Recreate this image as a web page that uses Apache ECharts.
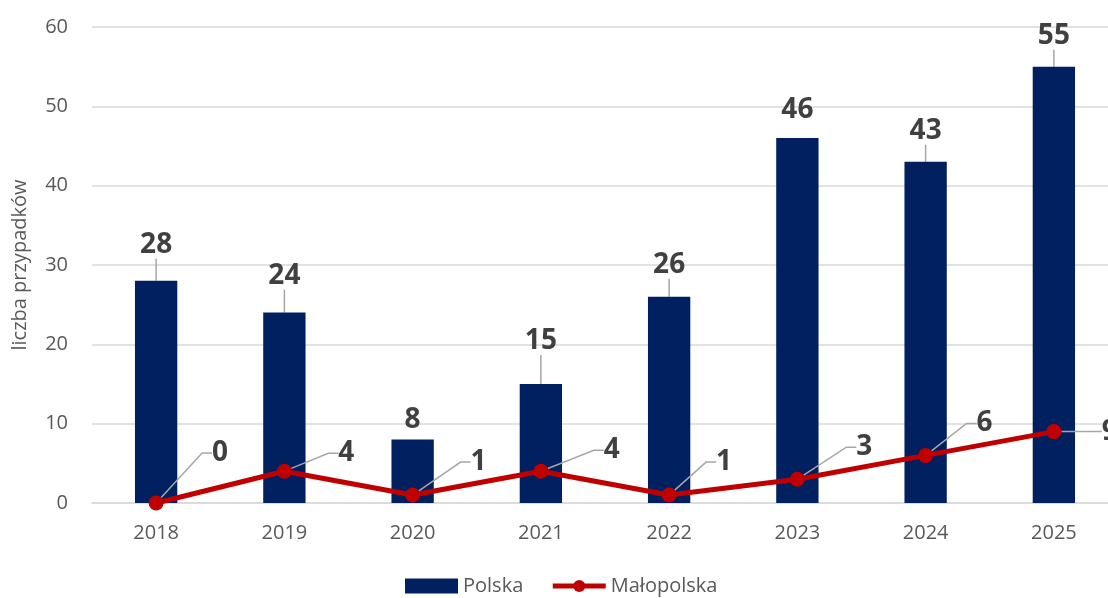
<!DOCTYPE html>
<html><head><meta charset="utf-8">
<script src="https://cdn.jsdelivr.net/npm/echarts@6/dist/echarts.min.js"></script>
<style>html,body{margin:0;padding:0;background:#fff}#c{width:1108px;height:598px}</style>
</head><body><div id="c"></div>
<script>
var categories = ['2018','2019','2020','2021','2022','2023','2024','2025'];
var polska = [28, 24, 8, 15, 26, 46, 43, 55];
var malopolska = [0, 4, 1, 4, 1, 3, 6, 9];
var yTicks = [0, 10, 20, 30, 40, 50, 60];

var lineLabelShift = [[64,-50],[62,-18],[66,-33],[71,-21],[55,-33],[67,-32],[59,-32],[56,0]];
var barLabelShift = [-16,-17,0,-23,-12,-8,-11,-11];
var barLeaderHidden = [false,false,true,false,false,true,false,false];

var FONT = '"Open Sans", "Liberation Sans", sans-serif';
var chart = echarts.init(document.getElementById('c'));
chart.setOption({
  animation: false,
  grid: {left: 92, width: 1026, top: 27, height: 476, containLabel: false, outerBoundsMode: 'none'},
  legend: {
    top: 576, left: 405, padding: 0, itemGap: 27, itemWidth: 53, itemHeight: 15,
    textStyle: {fontFamily: FONT, fontSize: 20, color: '#595959'},
    data: [
      {name: 'Polska', icon: 'rect'},
      {name: 'Małopolska', lineStyle: {width: 5, color: '#c00000'}}
    ]
  },
  xAxis: {
    type: 'category', data: categories,
    axisLine: {show: true, lineStyle: {color: '#d9d9d9', width: 1.5}},
    axisTick: {show: false},
    axisLabel: {fontFamily: FONT, fontSize: 20, color: '#595959', margin: 20}
  },
  yAxis: {
    type: 'value', min: yTicks[0], max: yTicks[yTicks.length-1], interval: 10,
    name: 'liczba przypadków', nameLocation: 'middle', nameGap: 62, nameRotate: 90,
    nameTextStyle: {fontFamily: FONT, fontSize: 20, color: '#595959'},
    axisLine: {show: false}, axisTick: {show: false},
    axisLabel: {fontFamily: FONT, fontSize: 20, color: '#595959', margin: 24},
    splitLine: {lineStyle: {color: '#d9d9d9', width: 1.5}}
  },
  series: [
    {
      name: 'Polska', type: 'bar',
      data: polska.map(function (v, i) { return {value: v, labelLine: {show: !barLeaderHidden[i]}}; }),
      barWidth: '33%',
      itemStyle: {color: '#002060'},
      label: {show: true, position: 'top', distance: 6, fontFamily: FONT, fontSize: 28, fontWeight: 'bold', color: '#404040'},
      labelLine: {show: true, lineStyle: {color: '#a6a6a6', width: 1.5}},
      labelLayout: function (p) { return {dy: barLabelShift[p.dataIndex]}; },
      z: 2
    },
    {
      name: 'Małopolska', type: 'line', data: malopolska,
      symbol: 'circle', symbolSize: 15,
      lineStyle: {color: '#c00000', width: 5},
      itemStyle: {color: '#c00000'},
      label: {show: true, position: 'inside', fontFamily: FONT, fontSize: 28, fontWeight: 'bold', color: '#404040'},
      labelLine: {show: true, length2: 10, lineStyle: {color: '#a6a6a6', width: 1.5}},
      labelLayout: function (p) { var s = lineLabelShift[p.dataIndex]; return {dx: s[0], dy: s[1]}; },
      z: 5
    }
  ]
});
</script></body></html>
